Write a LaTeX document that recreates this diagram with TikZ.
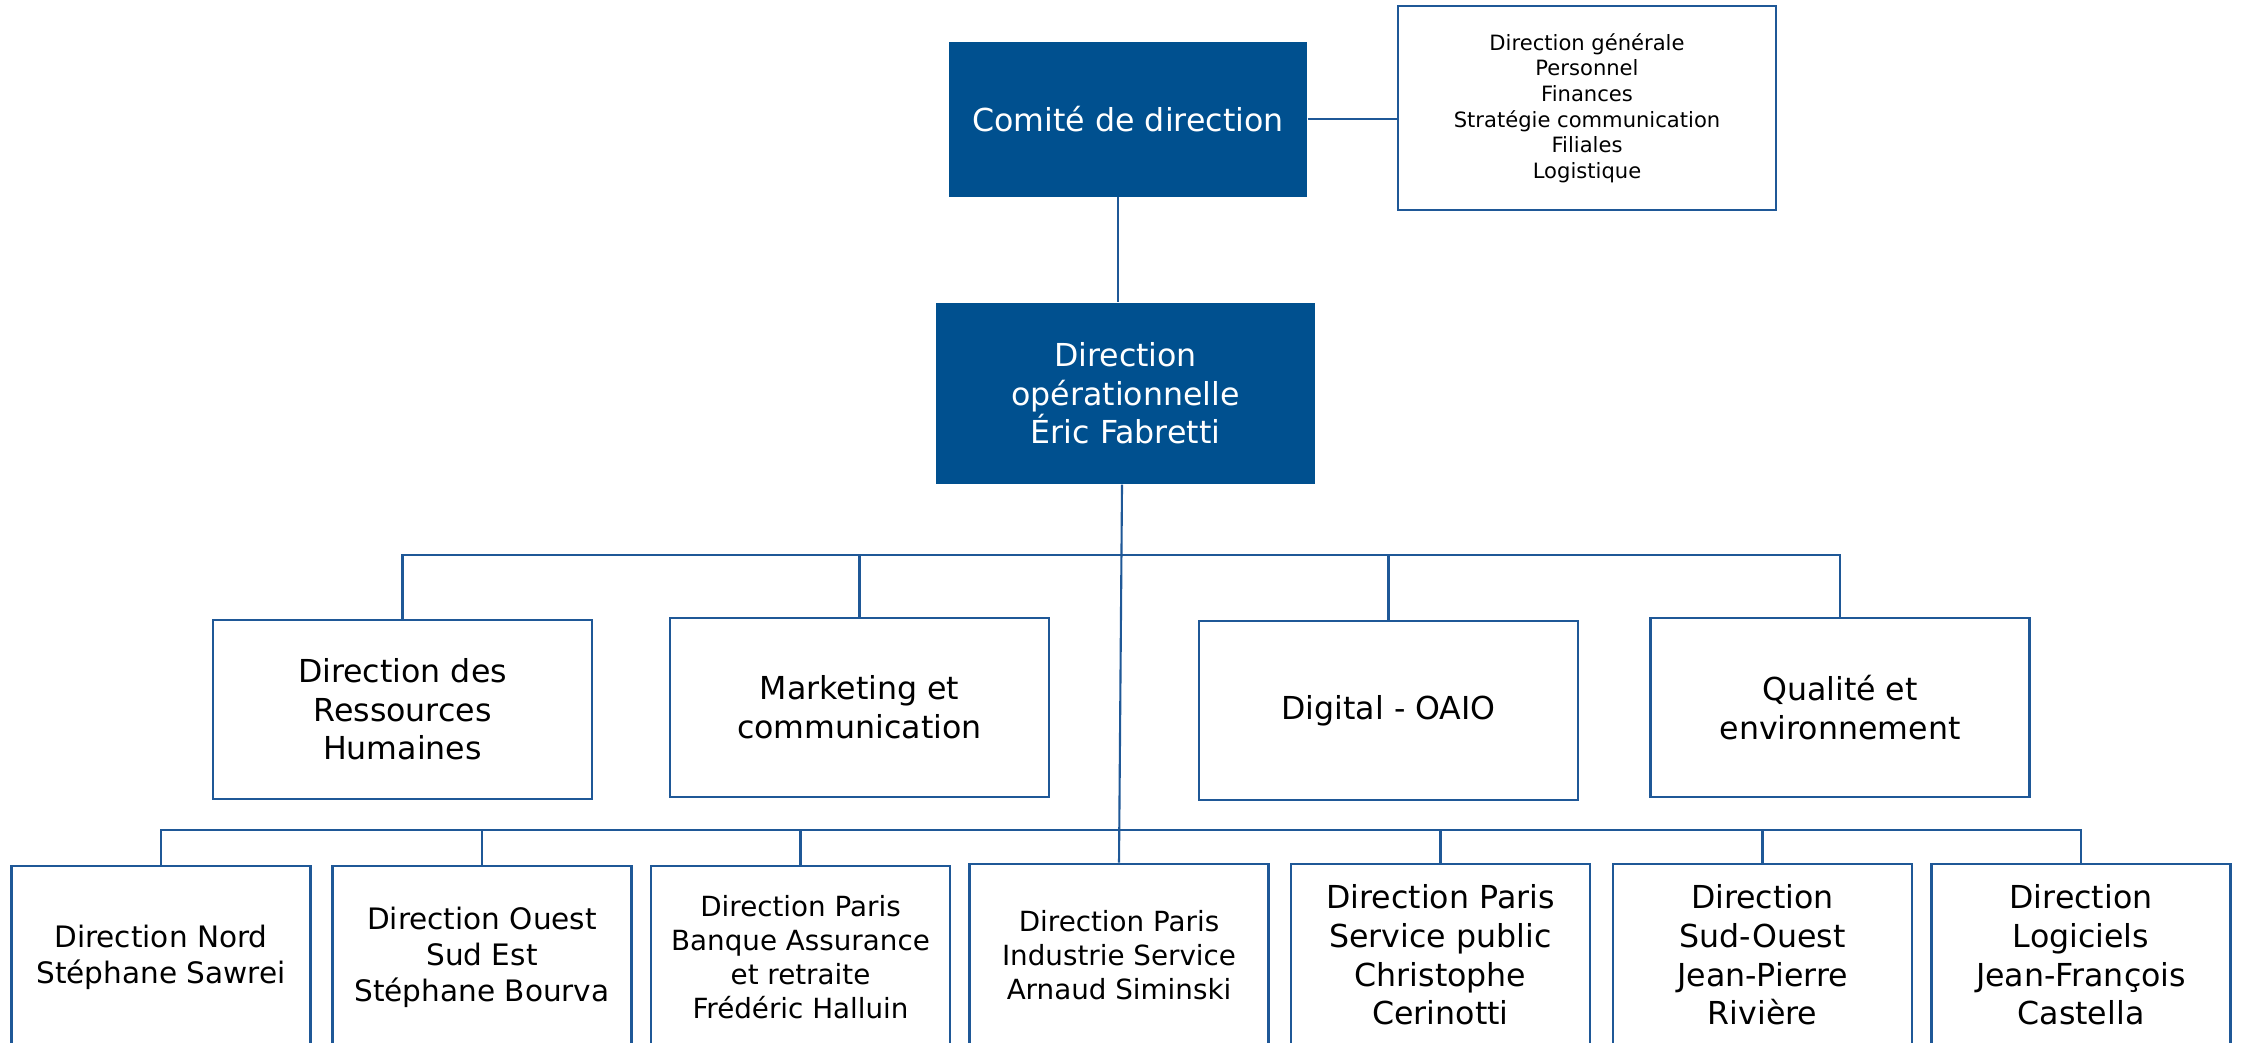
\documentclass[tikz,border=0pt]{standalone}
\usepackage{fontspec}
\setmainfont{DejaVu Sans}
\definecolor{bleufonce}{HTML}{00508F}
\definecolor{bleutrait}{HTML}{1F5897}

\begin{document}
\begin{tikzpicture}[
        plein/.style={fill=bleufonce, text=white, align=center, inner sep=0pt,
            font=\fontsize{9}{11}\selectfont},
        cadre/.style={draw=bleutrait, line width=0.8pt, fill=white, align=center, inner sep=0pt},
        lien/.style={draw=bleutrait, line width=0.6pt},
        moyen/.style={cadre, minimum width=3.79cm, minimum height=1.79cm,
            font=\fontsize{9}{11}\selectfont},
        bas/.style={cadre, minimum width=2.99cm, minimum height=1.82cm}
    ]
    \useasboundingbox (0,0) rectangle (22.44,-10.42);
    \clip (0,0) rectangle (22.44,-10.42);

    % haut
    \node [plein, minimum width=3.58cm, minimum height=1.55cm] (com) at (11.28,-1.19)
        {Comité de direction};
    \node [cadre, minimum width=3.78cm, minimum height=2.04cm,
        font=\fontsize{6}{7.3}\selectfont] (liste) at (15.87,-1.08)
        {\raisebox{-0.09cm}{}Direction générale\\Personnel\\Finances\\Stratégie communication\\Filiales\\Logistique};
    \node [plein, minimum width=3.79cm, minimum height=1.81cm] (op) at (11.255,-3.935)
        {Direction\\opérationnelle\\Éric Fabretti};

    % niveau 2
    \node [moyen] (rh) at (4.025,-7.095) {Direction des\\Ressources\\Humaines};
    \node [moyen] (mk) at (8.595,-7.075) {Marketing et\\communication};
    \node [moyen] (dg) at (13.885,-7.105) {Digital - OAIO};
    \node [moyen] (ql) at (18.40,-7.075) {Qualité et\\environnement};

    % niveau 3
    \node [bas, font=\fontsize{8.4}{10.2}\selectfont] (d1) at (1.61,-9.57)
        {Direction Nord\\Stéphane Sawrei};
    \node [bas, font=\fontsize{8.4}{10.2}\selectfont] (d2) at (4.82,-9.57)
        {Direction Ouest\\Sud Est\\Stéphane Bourva};
    \node [bas, font=\fontsize{7.9}{9.65}\selectfont] (d3) at (8.005,-9.57)
        {Direction Paris\\Banque Assurance\\et retraite\\Frédéric Halluin};
    \node [bas, font=\fontsize{7.9}{9.65}\selectfont] (d4) at (11.19,-9.55)
        {Direction Paris\\Industrie Service\\Arnaud Siminski};
    \node [bas, font=\fontsize{9}{11}\selectfont] (d5) at (14.405,-9.55)
        {Direction Paris\\Service public\\Christophe\\Cerinotti};
    \node [bas, font=\fontsize{9}{11}\selectfont] (d6) at (17.625,-9.55)
        {Direction\\Sud-Ouest\\Jean-Pierre\\Rivière};
    \node [bas, font=\fontsize{9}{11}\selectfont] (d7) at (20.81,-9.55)
        {Direction\\Logiciels\\Jean-François\\Castella};

    % liaisons
    \coordinate (bus1) at (0,-5.55);
    \coordinate (bus2) at (0,-8.30);
    \coordinate (haut) at (11.18,0);
    \coordinate (tronc) at (11.22,0);
    \draw [lien] (com.east) -- (liste.west |- com.east);
    \draw [lien] (com.south -| haut) -- (op.north -| haut);
    \draw [lien] (op.south -| tronc) -- (d4.north);
    \draw [lien] (rh.north) -- (rh.north |- bus1) -- (ql.north |- bus1) -- (ql.north);
    \draw [lien] (mk.north) -- (mk.north |- bus1);
    \draw [lien] (dg.north) -- (dg.north |- bus1);
    \draw [lien] (d1.north) -- (d1.north |- bus2) -- (d7.north |- bus2) -- (d7.north);
    \draw [lien] (d2.north) -- (d2.north |- bus2);
    \draw [lien] (d3.north) -- (d3.north |- bus2);
    \draw [lien] (d5.north) -- (d5.north |- bus2);
    \draw [lien] (d6.north) -- (d6.north |- bus2);
\end{tikzpicture}
\end{document}
